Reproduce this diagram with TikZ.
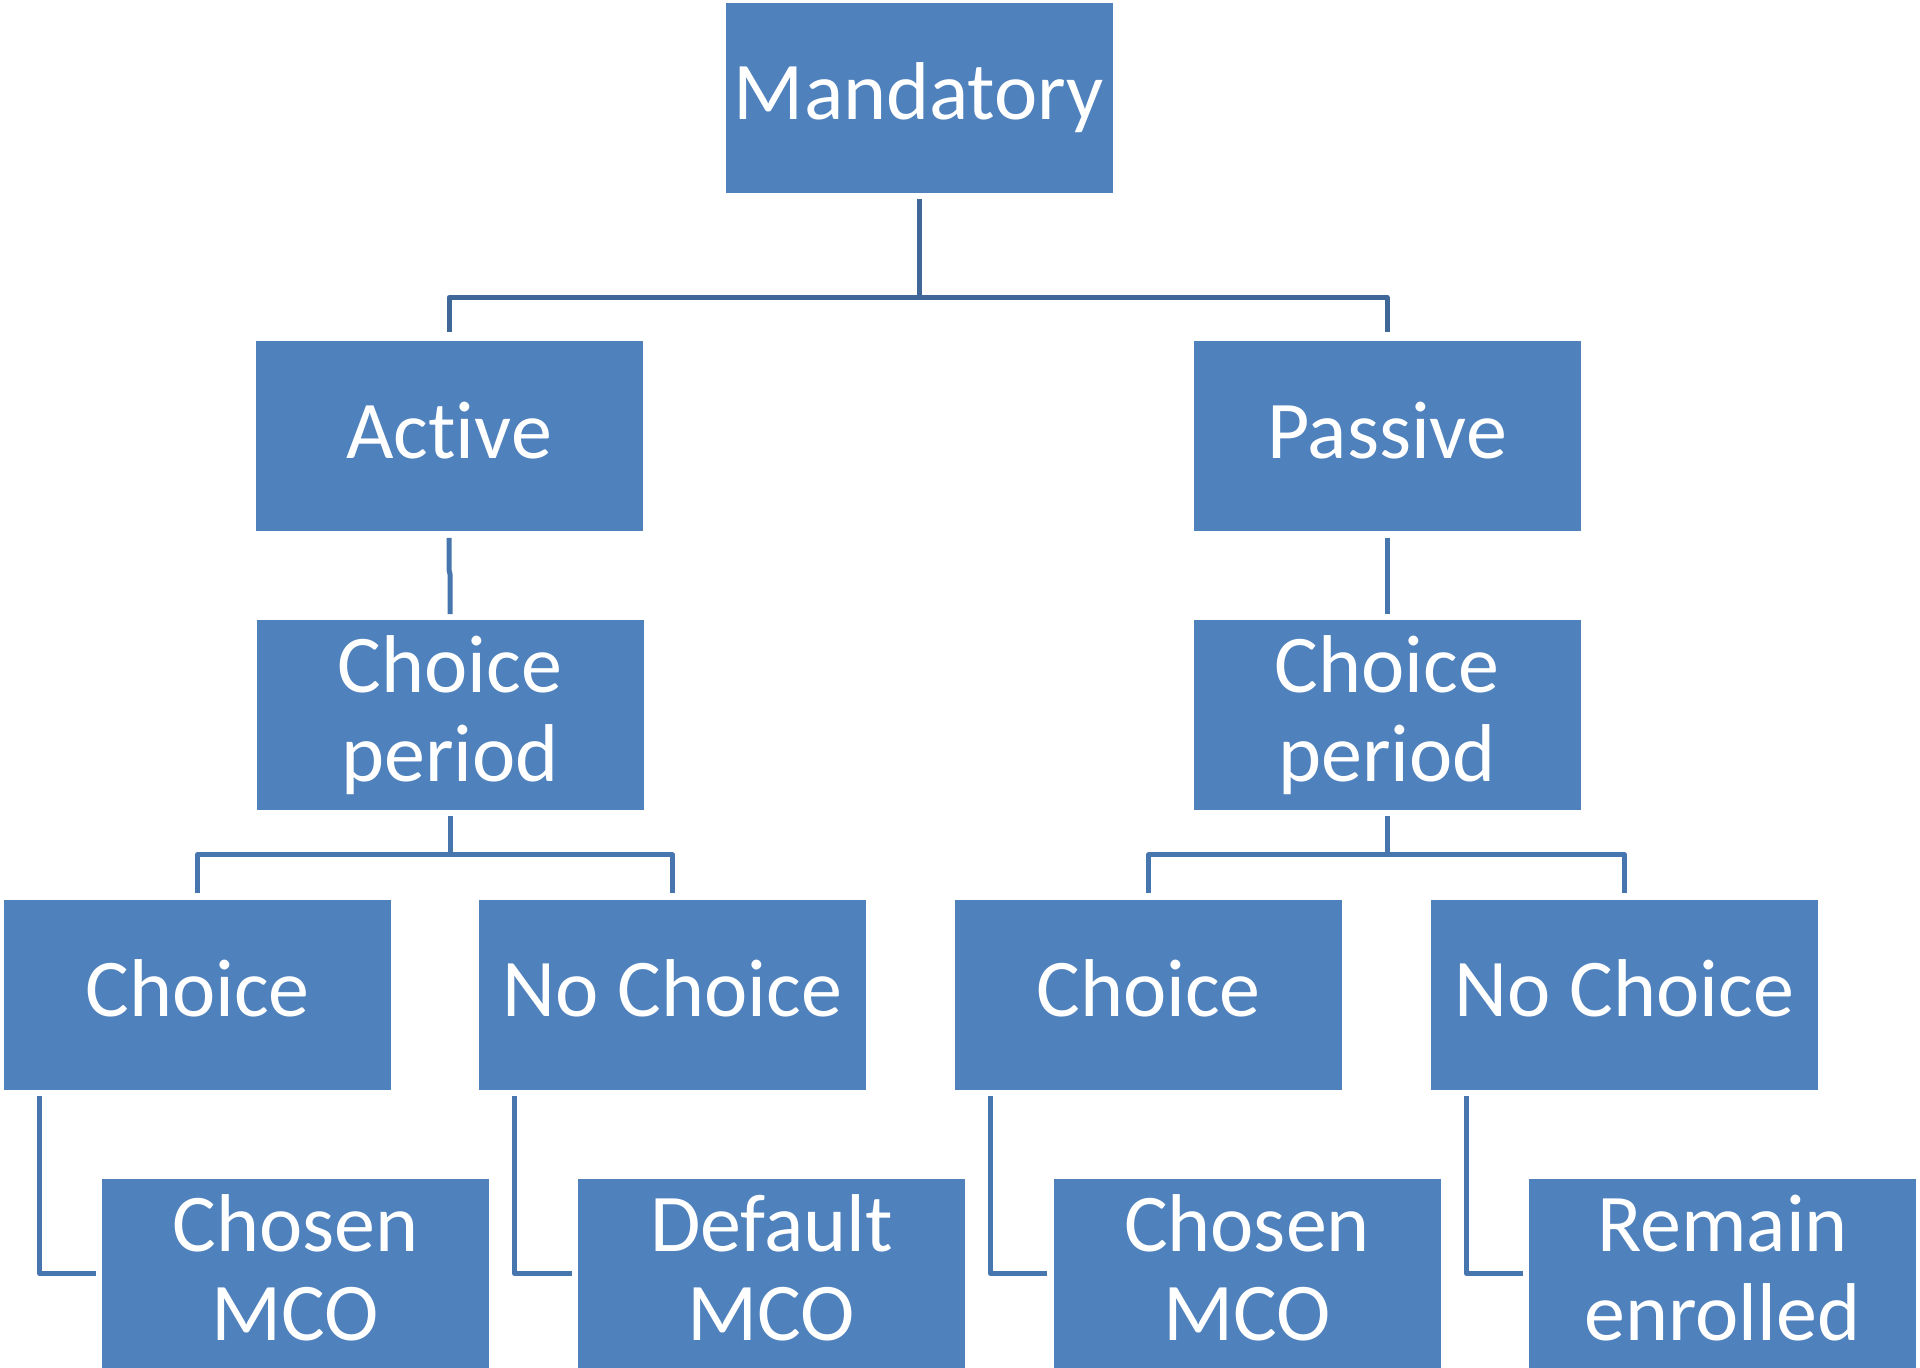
\documentclass[tikz,border=0pt]{standalone}
\usepackage{fontspec}
\setmainfont{Carlito}[Ligatures={NoCommon,NoRare,NoContextual}]
\usetikzlibrary{calc}
\definecolor{boxblue}{HTML}{4F81BD}
\definecolor{lineA}{HTML}{3F6899}
\definecolor{lineB}{HTML}{4775AE}
\newcommand\tstrut{\rule[-10pt]{0pt}{42pt}}
\begin{document}
\begin{tikzpicture}[x=0.5pt,y=-0.5pt,
  box/.style={fill=boxblue, draw=none, minimum width=193.5pt, minimum height=95pt,
    inner sep=0pt, text=white, font=\fontsize{41}{44.5}\selectfont, align=center},
  connA/.style={draw=lineA, line width=2.5pt, line join=round},
  connB/.style={draw=lineB, line width=2.5pt, line join=round}]
\useasboundingbox (0,0) rectangle (1920,1368);
% boxes
\node[box] (M) at (919,98) {\tstrut Mandatory};
\node[box] (A) at (449,436.5) {\tstrut Active};
\node[box] (P) at (1387,436.5) {\tstrut Passive};
\node[box] (CPL) at (450,714.5) {\tstrut Choice\\\tstrut period};
\node[box] (CPR) at (1387,714.5) {\tstrut Choice\\\tstrut period};
\node[box] (C1) at (197.5,994.5) {\tstrut Choice};
\node[box] (N1) at (672.5,994.5) {\tstrut No Choice};
\node[box] (C2) at (1148.5,994.5) {\tstrut Choice};
\node[box] (N2) at (1624.5,994.5) {\tstrut No Choice};
\node[box] (D1) at (295.5,1273.5) {\tstrut Chosen\\\tstrut MCO};
\node[box] (D2) at (771.5,1273.5) {\tstrut Default\\\tstrut MCO};
\node[box] (D3) at (1247,1273.5) {\tstrut Chosen\\\tstrut MCO};
\node[box] (D4) at (1722.5,1273.5) {\tstrut Remain\\\tstrut enrolled};
% top connectors
\draw[connA] ($(M.south)+(0,6)$) -- ($(M.south)+(0,104)$);
\draw[connA] ($(A.north)+(0,-9)$) |- ($(M.south)+(0,104)$) -| ($(P.north)+(0,-9)$);
% second level
\draw[connB] ($(A.south)+(0,6)$) -- ($(A.south)+(0,38)$) -- ($(CPL.north)+(0,-45)$) -- ($(CPL.north)+(0,-5)$);
\draw[connB] ($(P.south)+(0,6)$) -- ($(CPR.north)+(0,-5)$);
% choice period to children
\draw[connB] ($(CPL.south)+(0,6)$) -- ($(CPL.south)+(0,45)$);
\draw[connB] ($(C1.north)+(0,-6)$) |- ($(CPL.south)+(0,45)$) -| ($(N1.north)+(0,-6)$);
\draw[connB] ($(CPR.south)+(0,6)$) -- ($(CPR.south)+(0,45)$);
\draw[connB] ($(C2.north)+(0,-6)$) |- ($(CPR.south)+(0,45)$) -| ($(N2.north)+(0,-6)$);
% elbows
\draw[connB] ($(C1.south west)+(36,6)$) |- ($(D1.west)+(-6,0)$);
\draw[connB] ($(N1.south west)+(36,6)$) |- ($(D2.west)+(-6,0)$);
\draw[connB] ($(C2.south west)+(36,6)$) |- ($(D3.west)+(-6,0)$);
\draw[connB] ($(N2.south west)+(36,6)$) |- ($(D4.west)+(-6,0)$);
\end{tikzpicture}
\end{document}
